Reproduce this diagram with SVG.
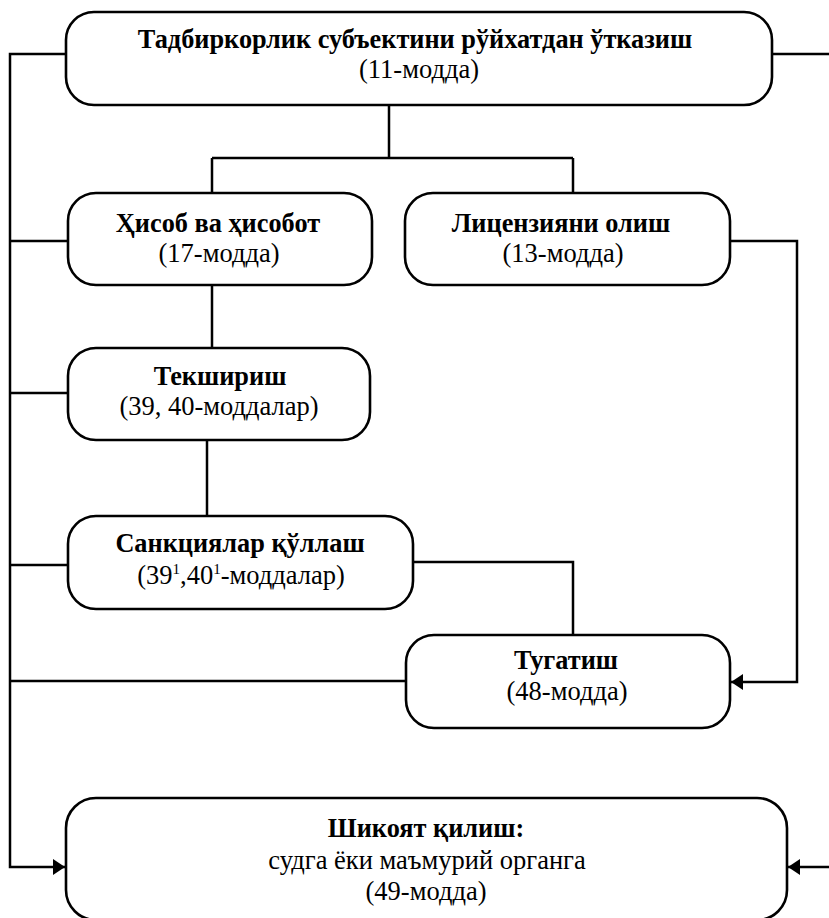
<svg xmlns="http://www.w3.org/2000/svg" width="829" height="918" viewBox="0 0 829 918">
<style>
.box{fill:#fff;stroke:#000;stroke-width:2.6}
.ln{fill:none;stroke:#000;stroke-width:2.5}
text{font-family:'Liberation Serif','Times New Roman',serif;font-size:26.5px;fill:#000;text-anchor:middle}
.b{font-weight:bold;font-size:26.3px}
.sup{font-size:15px}
</style>
<defs>
<marker id="ah" viewBox="0 0 12 16" refX="12" refY="8" markerWidth="12" markerHeight="16" orient="auto" markerUnits="userSpaceOnUse">
<path d="M0,0 L12,8 L0,16 z" fill="#000"/>
</marker>
</defs>
<rect width="829" height="918" fill="#fff"/>
<g id="connectors">
<path class="ln" d="M66,54 H10 V867 H65" marker-end="url(#ah)"/>
<path class="ln" d="M772,54 H829"/>
<path class="ln" d="M829,867 H788" marker-end="url(#ah)"/>
<path class="ln" d="M389,105 V158 M212,158 H573 M212,158 V193 M573,158 V193"/>
<path class="ln" d="M10,241 H68 M10,393 H68 M10,565 H68 M10,681 H406"/>
<path class="ln" d="M212,285 V348 M207,440 V516"/>
<path class="ln" d="M413,562 H573 V635"/>
<path class="ln" d="M730,241 H797 V682 H731" marker-end="url(#ah)"/>
</g>
<g id="n1"><rect class="box" x="66" y="12" width="706" height="93" rx="28"/>
<text class="b" x="415" y="48">Тадбиркорлик субъектини рўйхатдан ўтказиш</text>
<text x="419" y="78">(11-модда)</text></g>
<g id="n2"><rect class="box" x="68" y="193" width="304" height="92" rx="28"/>
<text class="b" x="218" y="232">Ҳисоб ва ҳисобот</text>
<text x="219" y="262">(17-модда)</text></g>
<g id="n3"><rect class="box" x="405" y="193" width="325" height="92" rx="28"/>
<text class="b" x="561" y="232">Лицензияни олиш</text>
<text x="563" y="262">(13-модда)</text></g>
<g id="n4"><rect class="box" x="68" y="348" width="302" height="92" rx="28"/>
<text class="b" x="220" y="385">Текшириш</text>
<text x="219" y="415">(39, 40-моддалар)</text></g>
<g id="n5"><rect class="box" x="68" y="516" width="345" height="93" rx="28"/>
<text class="b" x="240" y="552">Санкциялар қўллаш</text>
<text x="241" y="584">(39<tspan class="sup" dy="-10">1</tspan><tspan dy="10">,40</tspan><tspan class="sup" dy="-10">1</tspan><tspan dy="10">-моддалар)</tspan></text></g>
<g id="n6"><rect class="box" x="406" y="635" width="324" height="93" rx="28"/>
<text class="b" x="566" y="669">Тугатиш</text>
<text x="567" y="700">(48-модда)</text></g>
<g id="n7"><rect class="box" x="66" y="798" width="721" height="122" rx="30"/>
<text class="b" x="426" y="837">Шикоят қилиш:</text>
<text x="427" y="869">судга ёки маъмурий органга</text>
<text x="426" y="900">(49-модда)</text></g>
</svg>
